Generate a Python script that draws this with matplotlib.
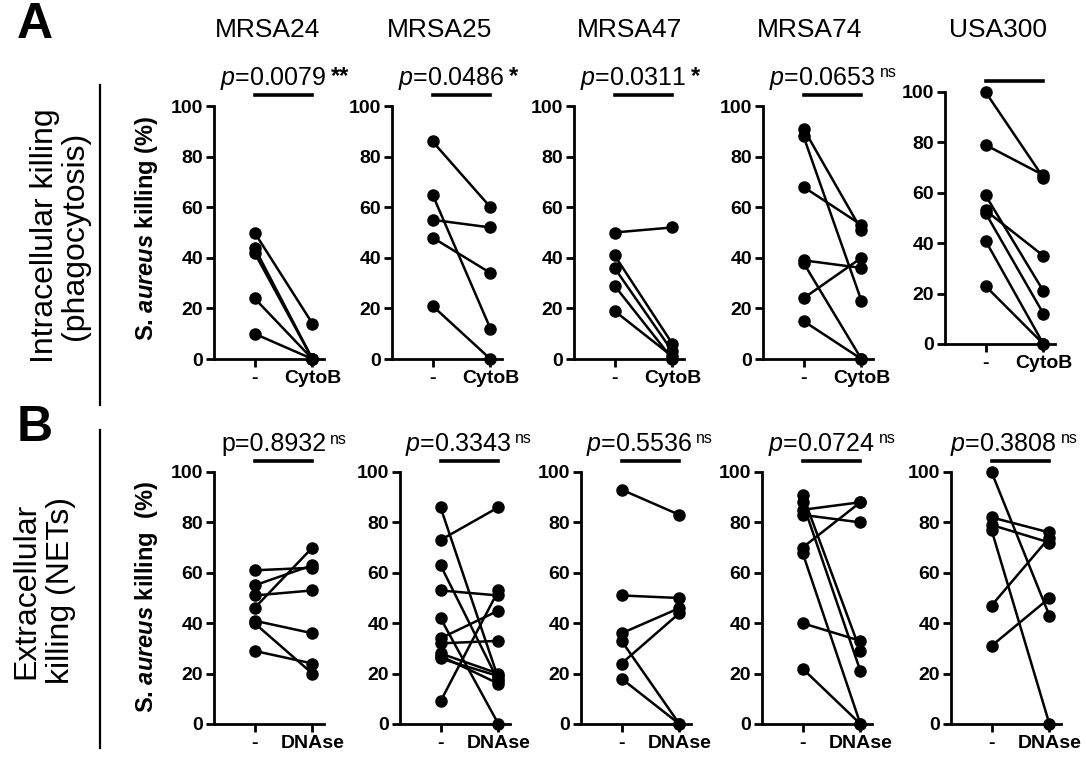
import matplotlib
matplotlib.use('Agg')
import matplotlib.pyplot as plt

plt.rcParams['font.family'] = ['Liberation Sans', 'DejaVu Sans']
plt.rcParams['mathtext.fontset'] = 'custom'
plt.rcParams['mathtext.rm'] = 'Liberation Sans'
plt.rcParams['mathtext.it'] = 'Liberation Sans:italic'
plt.rcParams['mathtext.bf'] = 'Liberation Sans:bold'
plt.rcParams['mathtext.bfit'] = 'Liberation Sans:bold:italic'

strains = ['MRSA24', 'MRSA25', 'MRSA47', 'MRSA74', 'USA300']

# A: intracellular killing, untreated (-) vs cytochalasin B
intra_ctrl = [[50, 44, 42, 24, 10],
              [86, 65, 55, 48, 21],
              [50, 41, 36, 29, 19],
              [91, 88, 68, 39, 38, 24, 15],
              [100, 79, 59, 53, 52, 41, 23]]
intra_cytob = [[14, 0, 0, 0, 0],
               [60, 12, 52, 34, 0],
               [52, 6, 3, 0, 1],
               [51, 23, 53, 36, 0, 40, 0],
               [66, 67, 21, 35, 12, 0, 0]]
intra_p = ['0.0079', '0.0486', '0.0311', '0.0653', None]
intra_sig = ['**', '*', '*', 'ns', None]

# B: extracellular killing (NETs), untreated (-) vs DNAse
extra_ctrl = [[61, 55, 51, 46, 41, 40, 29],
              [86, 73, 63, 53, 42, 34, 32, 28, 27, 26, 9],
              [93, 51, 36, 33, 24, 18],
              [91, 88, 85, 83, 70, 68, 40, 22],
              [100, 82, 79, 77, 47, 31]]
extra_dnase = [[62, 63, 53, 70, 36, 20, 24],
               [18, 86, 17, 51, 0, 45, 33, 20, 16, 19, 53],
               [83, 50, 46, 0, 44, 0],
               [29, 21, 88, 80, 88, 0, 33, 0],
               [43, 76, 72, 0, 74, 50]]
extra_p = ['0.8932', '0.3343', '0.5536', '0.0724', '0.3808']
extra_sig = ['ns', 'ns', 'ns', 'ns', 'ns']

W, H = 1086, 763
fig = plt.figure(figsize=(W / 100, H / 100), dpi=100)


def panel(left, y0, y100, ctrl, treat, xlab, ptxt, sig, italic_p=True, px=0.33):
    ax = fig.add_axes([left / W, 1 - y0 / H, 110 / W, (y0 - y100) / H])
    for a, b in zip(ctrl, treat):
        ax.plot([0, 1], [a, b], '-o', color='black', lw=1.8, ms=8,
                clip_on=False, zorder=3)
    ax.set_xlim(-0.7, 1.2)
    ax.set_ylim(0, 100)
    for s in ['top', 'right']:
        ax.spines[s].set_visible(False)
    for s in ['left', 'bottom']:
        ax.spines[s].set_linewidth(2)
    ax.set_xticks([0, 1])
    ax.set_xticklabels(['-', xlab], fontsize=14, fontweight='bold')
    ax.set_yticks(range(0, 101, 20))
    ax.set_yticklabels([str(v) for v in range(0, 101, 20)], fontsize=14,
                       fontweight='bold')
    ax.tick_params(width=2, length=6, pad=2)
    ax.plot([0, 1], [104.5, 104.5], color='black', lw=2.6, clip_on=False)
    if ptxt is not None:
        lab = (r'$\it{p}$=' if italic_p else 'p=') + ptxt
        t = ax.text(px, 111, lab, ha='center', va='center', fontsize=18)
        if sig == 'ns':
            ax.annotate('ns', xy=(1, 1), xycoords=t, xytext=(3, 0),
                        textcoords='offset points', va='top', fontsize=11.5)
        else:
            ax.annotate(sig, xy=(1, 1), xycoords=t, xytext=(3, 0),
                        textcoords='offset points', va='top', fontsize=17,
                        fontweight='bold')
    return ax


top_left = [214, 392, 574, 763, 945]
top_y0 = [359, 359, 359, 359, 344]
top_y100 = [106, 106, 106, 106, 92]
title_x = [268, 440, 630, 810, 998]
for i in range(5):
    panel(top_left[i], top_y0[i], top_y100[i], intra_ctrl[i], intra_cytob[i],
          'CytoB', intra_p[i], intra_sig[i])
    fig.text(title_x[i] / W, 1 - 30 / H, strains[i], ha='center', va='center',
             fontsize=19)

bot_left = [214, 400, 581, 762, 951]
bot_px = [0.33, 0.3, 0.3, 0.33, 0.2]
for i in range(5):
    panel(bot_left[i], 724, 472, extra_ctrl[i], extra_dnase[i], 'DNAse',
          extra_p[i], extra_sig[i], italic_p=(i != 0), px=bot_px[i])

# y labels
fig.text(146 / W, 1 - 228 / H, r'S. $\mathbfit{aureus}$ killing (%)',
         rotation=90, ha='center', va='center', fontsize=17, fontweight='bold')
fig.text(146 / W, 1 - 597 / H, r'S. $\mathbfit{aureus}$ killing  (%)',
         rotation=90, ha='center', va='center', fontsize=17, fontweight='bold')

# row labels and separators
fig.text(60 / W, 1 - 236 / H, 'Intracellular killing\n(phagocytosis)',
         rotation=90, ha='center', va='center', fontsize=23, linespacing=1.0)
fig.text(44 / W, 1 - 591 / H, 'Extracellular\nkilling (NETs)',
         rotation=90, ha='center', va='center', fontsize=23, linespacing=1.2)
fig.add_artist(plt.Line2D([100 / W, 100 / W], [1 - 85 / H, 1 - 405 / H],
                          color='black', lw=1.6))
fig.add_artist(plt.Line2D([100 / W, 100 / W], [1 - 430 / H, 1 - 748 / H],
                          color='black', lw=1.6))

fig.text(35 / W, 1 - 25 / H, 'A', ha='center', va='center', fontsize=36,
         fontweight='bold')
fig.text(35 / W, 1 - 428 / H, 'B', ha='center', va='center', fontsize=36,
         fontweight='bold')

fig.savefig('out.png', dpi=100)
